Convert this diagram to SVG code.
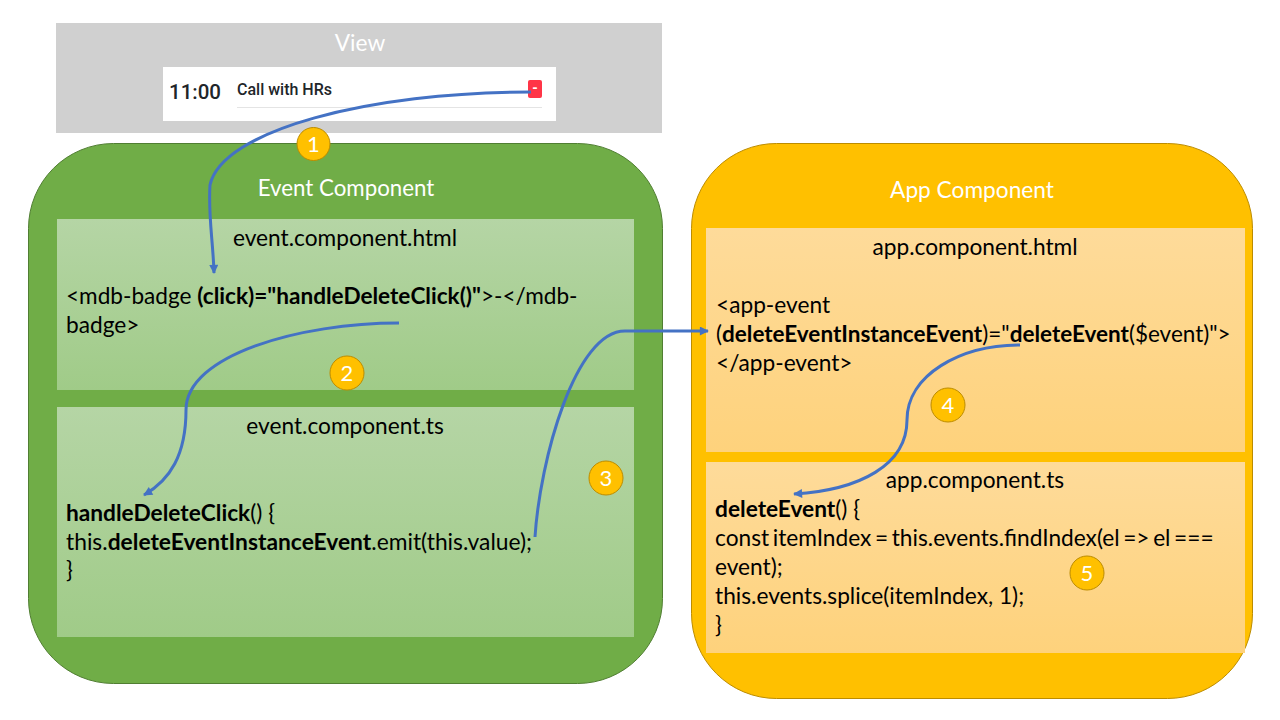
<svg xmlns="http://www.w3.org/2000/svg" width="1280" height="720" viewBox="0 0 1280 720">
<defs>
<linearGradient id="gg" x1="0" y1="0" x2="0" y2="1"><stop offset="0" stop-color="#b5d5a5"/><stop offset="1" stop-color="#a0cb88"/></linearGradient>
<linearGradient id="gy" x1="0" y1="0" x2="0" y2="1"><stop offset="0" stop-color="#fedb9a"/><stop offset="1" stop-color="#fed27c"/></linearGradient>
<marker id="arr" viewBox="0 0 10 10" refX="9" refY="5" markerWidth="10" markerHeight="9" markerUnits="userSpaceOnUse" orient="auto"><path d="M0 0L10 5L0 10Z" fill="#4472c4"/></marker>
</defs>
<style>
text{font-family:Lato,"Liberation Sans",sans-serif;fill:#000;font-size:22.7px}
.c{text-anchor:middle}
.w{fill:#fff}
.b{font-weight:700}
.badge circle{fill:#ffc000;stroke:#bc8c00;stroke-width:1}
.badge text{fill:#fff;text-anchor:middle;font-size:22px}
.conn path{fill:none;stroke:#4472c4;stroke-width:3}
</style>
<rect width="1280" height="720" fill="#fff"/>
<g id="view">
<rect x="56" y="23" width="606" height="110" fill="#d0d0d0"/>
<text x="360" y="51" class="c w">View</text>
<rect x="163" y="67" width="393" height="54" fill="#fff"/>
<text x="169" y="99" style="font-family:Roboto,sans-serif;font-size:20.500px;font-weight:500;fill:#212529">11:00</text>
<text x="237" y="95" style="font-family:Roboto,sans-serif;font-size:16px;font-weight:500;fill:#212529">Call with HRs</text>
<rect x="237" y="107" width="305" height="1" fill="#e4e4e4"/>
<rect x="528" y="80" width="14" height="18" rx="2" fill="#ff3547"/>
<text x="535" y="93" class="c" style="font-family:Roboto,sans-serif;font-size:14px;font-weight:700;fill:#fff">-</text>
</g>
<g id="event-component">
<rect x="28.500" y="143.500" width="634" height="540" rx="85" fill="#70ad47" stroke="#507e32"/>
<text x="346" y="196" class="c w" style="font-size:22.300px">Event Component</text>
</g>
<g id="event-html">
<rect x="57" y="219" width="577" height="171" fill="url(#gg)"/>
<text x="345" y="246" class="c">event.component.html</text>
<text x="66" y="304" style="font-size:22.600px">&lt;mdb-badge <tspan class="b">(click)="handleDeleteClick()"</tspan>&gt;-&lt;/mdb-</text>
<text x="66" y="333">badge&gt;</text>
</g>
<g id="event-ts">
<rect x="57" y="407" width="577" height="230" fill="url(#gg)"/>
<text x="345" y="434" class="c">event.component.ts</text>
<text x="66" y="521"><tspan class="b">handleDeleteClick</tspan>() {</text>
<text x="66" y="550" style="font-size:22.800px">this.<tspan class="b">deleteEventInstanceEvent</tspan>.emit(this.value);</text>
<text x="66" y="578">}</text>
</g>
<g id="app-component">
<rect x="691.500" y="143.500" width="561" height="555" rx="85" fill="#ffc000" stroke="#bc8c00"/>
<text x="972" y="198" class="c w">App Component</text>
</g>
<g id="app-html">
<rect x="706" y="228" width="539" height="224" fill="url(#gy)"/>
<text x="975" y="255" class="c">app.component.html</text>
<text x="716" y="313">&lt;app-event</text>
<text x="716" y="342" style="font-size:22.500px">(<tspan class="b">deleteEventInstanceEvent</tspan>)="<tspan class="b">deleteEvent</tspan>($event)"&gt;</text>
<text x="716" y="371">&lt;/app-event&gt;</text>
</g>
<g id="app-ts">
<rect x="706" y="462" width="539" height="191" fill="url(#gy)"/>
<text x="975" y="488" class="c">app.component.ts</text>
<text x="715" y="517"><tspan class="b">deleteEvent</tspan>() {</text>
<text x="715" y="546" word-spacing="-2.2">const itemIndex = this.events.findIndex(el =&gt; el ===</text>
<text x="715" y="575">event);</text>
<text x="715" y="604">this.events.splice(itemIndex, 1);</text>
<text x="715" y="633">}</text>
</g>
<g id="connectors" class="conn">
<path d="M531 92C370 92 222 130 210 185C208 215 213 240 214 273" marker-end="url(#arr)"/>
<path d="M399 323C300 323 186 355 186 410C186 455 170 480 144 495" marker-end="url(#arr)"/>
<path d="M535 537C540 460 575 331 625 331L708 331" marker-end="url(#arr)"/>
<path d="M1020 345C960 345 907 375 907 420C907 465 860 490 794 494" marker-end="url(#arr)"/>
</g>
<g id="badge-1" class="badge"><circle cx="313.500" cy="144" r="16.500"/><text x="313.500" y="151.500">1</text></g>
<g id="badge-2" class="badge"><circle cx="347" cy="373" r="17"/><text x="347" y="380.500">2</text></g>
<g id="badge-3" class="badge"><circle cx="606" cy="478" r="17"/><text x="606" y="485.500">3</text></g>
<g id="badge-4" class="badge"><circle cx="948" cy="405" r="17"/><text x="948" y="412.500">4</text></g>
<g id="badge-5" class="badge"><circle cx="1087" cy="573" r="17"/><text x="1087" y="580.500">5</text></g>
</svg>
